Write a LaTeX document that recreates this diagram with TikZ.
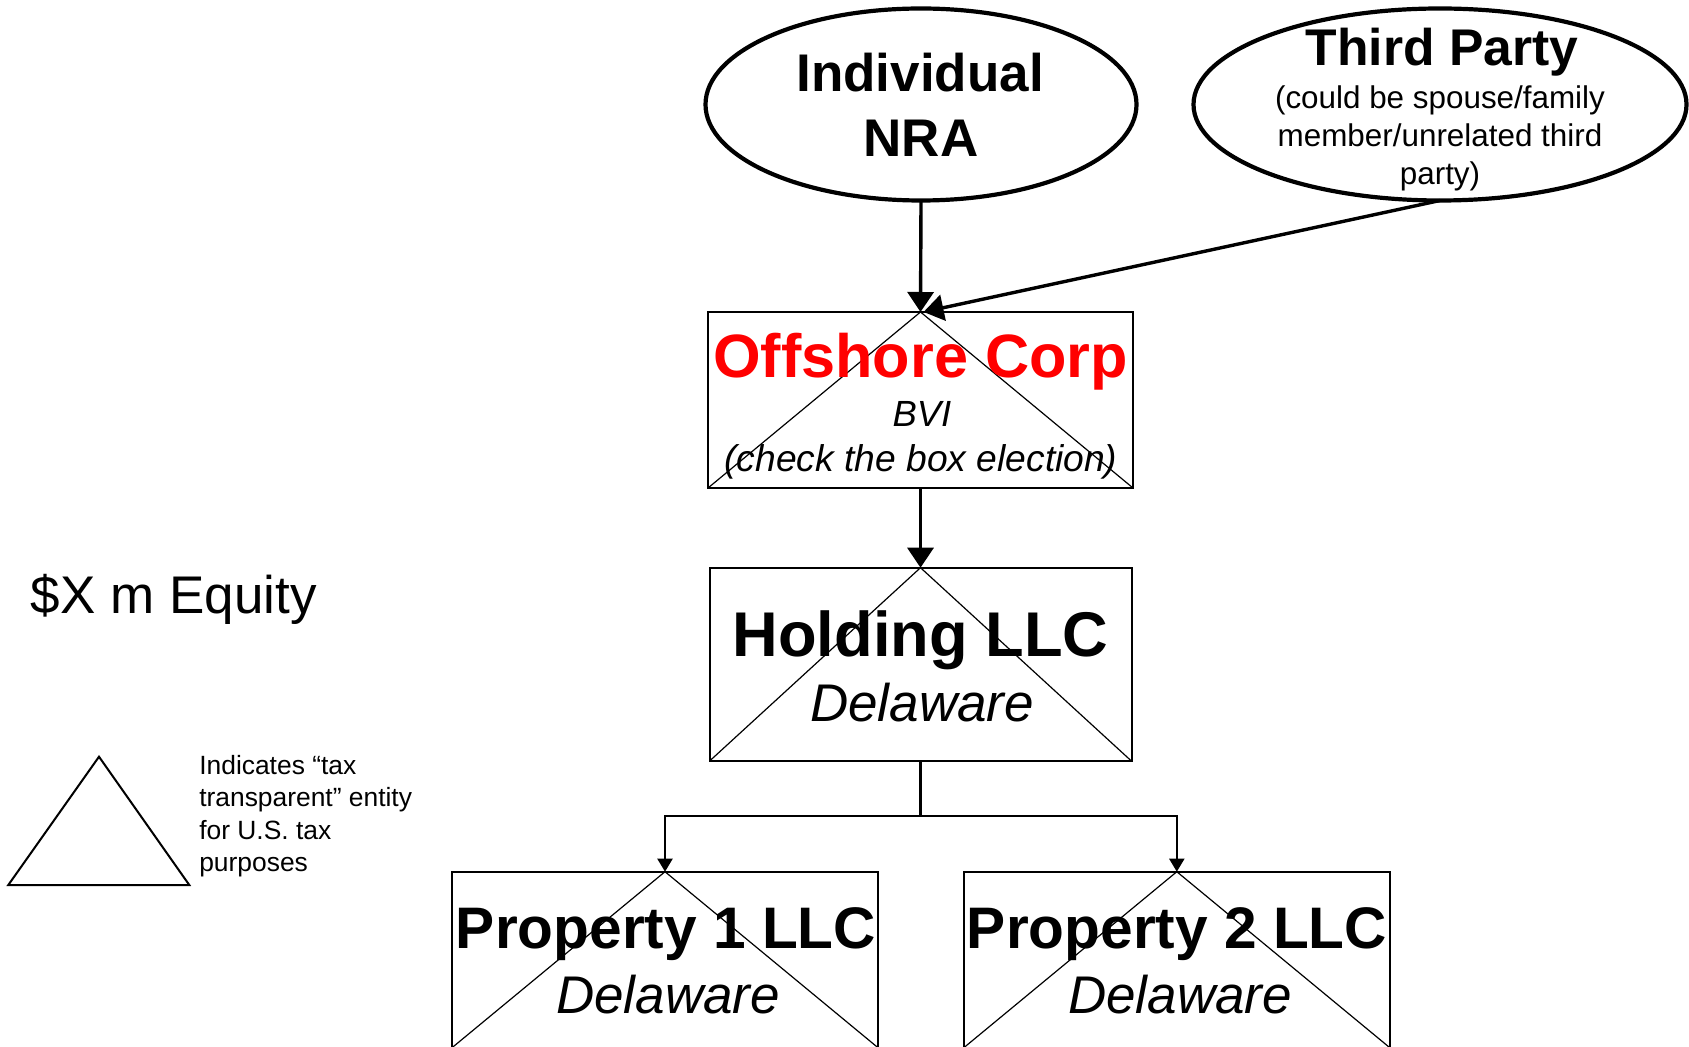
\documentclass[tikz,border=0pt]{standalone}
\usepackage{fontspec}
\setmainfont{Liberation Sans}
\usetikzlibrary{shapes.geometric,arrows.meta}
\definecolor{offred}{RGB}{255,0,0}
\newcommand{\fsz}[1]{\fontsize{#1}{#1}\selectfont}
\tikzset{
  ell/.style={ellipse, draw, line width=2.1pt, inner sep=0pt, outer sep=0pt},
  ent/.style={rectangle, draw, line width=1pt, inner sep=0pt, outer sep=0pt},
  tri/.style={line width=0.6pt},
  txt/.style={anchor=base, inner sep=0pt, outer sep=0pt},
  ltxt/.style={anchor=base west, inner sep=0pt, outer sep=0pt},
  bigarrow/.style={line width=1.7pt, -{Triangle[length=10pt,width=13pt]}},
  smallarrow/.style={line width=1.1pt, -{Triangle[length=6.5pt,width=7.5pt]}},
  conn/.style={line width=1.1pt},
}
\begin{document}
\begin{tikzpicture}[x=0.5pt,y=-0.5pt]
\useasboundingbox (0,0) rectangle (1689,1047);

% ellipses
\node[ell, minimum width=215.5pt, minimum height=96pt] (nra) at (921,104.5) {};
\node[ell, minimum width=246.5pt, minimum height=96pt] (tp) at (1440,104.5) {};

% entity boxes
\node[ent, minimum width=212.5pt, minimum height=88pt] (off) at (920.5,400) {};
\node[ent, minimum width=211pt, minimum height=96.7pt] (hold) at (920.5,664.4) {};
\node[ent, minimum width=213pt, minimum height=88pt] (p1) at (665,959.7) {};
\node[ent, minimum width=213pt, minimum height=88pt] (p2) at (1176.8,959.7) {};

% tax transparent triangles
\draw[tri] (off.south west) -- (off.north) -- (off.south east);
\draw[tri] (hold.south west) -- (hold.north) -- (hold.south east);
\draw[tri] (p1.south west) -- (p1.north) -- (p1.south east);
\draw[tri] (p2.south west) -- (p2.north) -- (p2.south east);

% texts in ellipses
\node[txt, font=\fsz{26.5}\bfseries] (nra1) at (920,91.7) {Individual};
\node[txt, font=\fsz{26.5}\bfseries] (nra2) at (921,156.7) {NRA};
\node[txt, font=\fsz{25.8}\bfseries] (tp1) at (1442,66) {Third Party};
\node[txt, font=\fsz{15.7}] (tp2) at (1440,108.3) {(could be spouse/family};
\node[txt, font=\fsz{15.7}] (tp3) at (1440,146.7) {member/unrelated third};
\node[txt, font=\fsz{15.7}] (tp4) at (1440,184.5) {party)};

% texts in boxes
\node[txt, font=\fsz{30.6}\bfseries, text=offred] (off1) at (920.5,378) {Offshore Corp};
\node[txt, font=\fsz{18.2}\itshape] (off2) at (922,427) {BVI};
\node[txt, font=\fsz{18.6}\itshape] (off3) at (921,471.7) {(check the box election)};
\node[txt, font=\fsz{31.6}\bfseries] (hold1) at (920.5,656.7) {Holding LLC};
\node[txt, font=\fsz{26.5}\itshape] (hold2) at (922,721.7) {Delaware};
\node[txt, font=\fsz{29.3}\bfseries] (p1a) at (666,948) {Property 1 LLC};
\node[txt, font=\fsz{26.5}\itshape] (p1b) at (668,1013) {Delaware};
\node[txt, font=\fsz{29.3}\bfseries] (p2a) at (1177,948) {Property 2 LLC};
\node[txt, font=\fsz{26.5}\itshape] (p2b) at (1180,1013) {Delaware};

% connectors
\draw[bigarrow] (nra.south) -- (off.north);
\draw[bigarrow] (tp.south) -- ([xshift=1.5pt]off.north);
\draw[bigarrow] (off.south) -- (hold.north);
\coordinate (split) at (920.5,815.7);
\draw[conn] (hold.south) -- (split);
\draw[smallarrow] (split) -| (p1.north);
\draw[smallarrow] (split) -| (p2.north);

% left side
\node[ltxt, font=\fsz{26.5}] (eq) at (31,613.3) {\$X m Equity};
\draw[line width=1pt, line join=miter] (99,756.7) -- (189.3,885) -- (8.3,885) -- cycle;
\node[ltxt, font=\fsz{13.2}] (lg1) at (199.3,774.3) {Indicates “tax};
\node[ltxt, font=\fsz{13.2}] (lg2) at (199.3,806.7) {transparent” entity};
\node[ltxt, font=\fsz{13.2}] (lg3) at (199.3,839) {for U.S. tax};
\node[ltxt, font=\fsz{13.2}] (lg4) at (199.3,871.3) {purposes};
\end{tikzpicture}
\end{document}
